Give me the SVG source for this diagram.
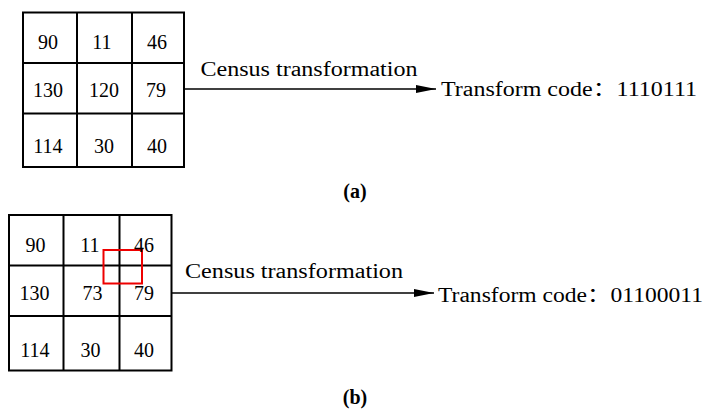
<svg xmlns="http://www.w3.org/2000/svg" width="705" height="410" viewBox="0 0 705 410">
<defs>
<style>
.grid{fill:none;stroke:#000;stroke-width:2}
.t{font-family:"Liberation Serif","Noto Sans CJK SC",serif;font-size:20px;fill:#000}
.c{text-anchor:middle}
.cap{font-family:"Liberation Serif",serif;font-size:20px;font-weight:bold;text-anchor:middle}
.conn{stroke:#000;stroke-width:1.6;fill:none}
</style>
<marker id="ah" viewBox="0 0 20 8" refX="20" refY="4" markerWidth="20" markerHeight="8" markerUnits="userSpaceOnUse" orient="auto">
<path d="M0,0 L20,4 L0,8 Z" fill="#000"/>
</marker>
</defs>
<rect width="705" height="410" fill="#fff"/>
<g id="gridA">
<path class="grid" d="M23,12.5H184V167H23Z M77,12.5V167 M132,12.5V167 M23,63H184 M23,113.5H184"/>
<text class="t c" x="48" y="49">90</text>
<text class="t c" x="102" y="49">11</text>
<text class="t c" x="157" y="49">46</text>
<text class="t c" x="48" y="97">130</text>
<text class="t c" x="104" y="97">120</text>
<text class="t c" x="156" y="97">79</text>
<text class="t c" x="48" y="153">114</text>
<text class="t c" x="104" y="153">30</text>
<text class="t c" x="157" y="153">40</text>
</g>
<g id="codeA">
<text class="t" x="441" y="96" textLength="256" lengthAdjust="spacingAndGlyphs">Transform code：1110111</text>
</g>
<g id="gridB">
<path class="grid" d="M9,215H171.5V370.5H9Z M63.5,215V370.5 M119.5,215V370.5 M9,265.5H171.5 M9,316H171.5"/>
<rect x="103.5" y="250" width="38.5" height="33.5" fill="none" stroke="#e00" stroke-width="2"/>
<text class="t c" x="35.5" y="251.5">90</text>
<text class="t c" x="90" y="251.5">11</text>
<text class="t c" x="144" y="251.5">46</text>
<text class="t c" x="34.5" y="300">130</text>
<text class="t c" x="92.5" y="300">73</text>
<text class="t c" x="144" y="300">79</text>
<text class="t c" x="35" y="356.5">114</text>
<text class="t c" x="90.5" y="356.5">30</text>
<text class="t c" x="144" y="356.5">40</text>
</g>
<g id="codeB">
<text class="t" x="438" y="302" textLength="265" lengthAdjust="spacingAndGlyphs">Transform code：01100011</text>
</g>
<g id="connectors">
<line class="conn" x1="184" y1="89" x2="436" y2="89" marker-end="url(#ah)"/>
<text class="t" x="200.5" y="76" textLength="217" lengthAdjust="spacingAndGlyphs">Census transformation</text>
<line class="conn" x1="171.5" y1="293" x2="434" y2="293" marker-end="url(#ah)"/>
<text class="t" x="185" y="278" textLength="218" lengthAdjust="spacingAndGlyphs">Census transformation</text>
</g>
<text class="cap" x="355" y="198">(a)</text>
<text class="cap" x="355" y="404">(b)</text>
</svg>
